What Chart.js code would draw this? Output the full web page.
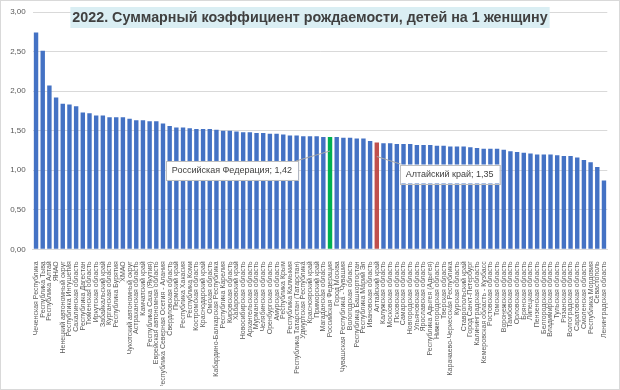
<!DOCTYPE html>
<html><head><meta charset="utf-8">
<script src="https://cdn.jsdelivr.net/npm/chart.js@4/dist/chart.umd.min.js"></script>
<style>html,body{margin:0;padding:0;background:#fff}#wrap{width:620px;height:390px;position:relative}</style>
</head><body><div id="wrap"><canvas id="c" width="620" height="390"></canvas></div>
<script>
const titleText = "2022. Суммарный коэффициент рождаемости, детей на 1 женщину";
const regions = [
"Чеченская Республика","Республика Тыва","Республика Алтай","ЯНАО","Ненецкий автономный округ",
"Республика Ингушетия","Сахалинская область","Республика Дагестан","Тюменская область","Иркутская область",
"Забайкальский край","Курганская область","Республика Бурятия","ХМАО","Чукотский автономный округ",
"Астраханская область","Камчатский край","Республика Саха (Якутия)","Еврейская автономная область","Республика Северная Осетия - Алания",
"Свердловская область","Пермский край","Республика Хакасия","Республика Коми","Костромская область",
"Краснодарский край","Омская область","Кабардино-Балкарская Республика","Республика Карелия","Кировская область",
"Хабаровский край","Новосибирская область","Архангельская область","Мурманская область","Челябинская область",
"Оренбургская область","Амурская область","Республика Крым","Республика Калмыкия","Республика Татарстан (Татарстан)",
"Удмуртская Республика","Красноярский край","Приморский край","Магаданская область","Российская Федерация",
"Город Москва","Чувашская Республика - Чувашия","Вологодская область","Республика Башкортостан","Республика Марий Эл",
"Ивановская область","Алтайский край","Калужская область","Московская область","Псковская область",
"Самарская область","Новгородская область","Ульяновская область","Ярославская область","Республика Адыгея (Адыгея)",
"Нижегородская область","Тверская область","Карачаево-Черкесская Республика","Курская область","Ставропольский край",
"Город Санкт-Петербург","Калининградская область","Кемеровская область - Кузбасс","Ростовская область","Томская область",
"Воронежская область","Тамбовская область","Орловская область","Брянская область","Липецкая область",
"Пензенская область","Белгородская область","Владимирская область","Тульская область","Рязанская область",
"Волгоградская область","Саратовская область","Смоленская область","Республика Мордовия","Севастополь",
"Ленинградская область"
];
const values = [
2.74,2.51,2.07,1.92,1.84,
1.83,1.81,1.73,1.72,1.69,
1.69,1.67,1.67,1.67,1.65,
1.63,1.63,1.62,1.62,1.59,
1.56,1.54,1.54,1.53,1.52,
1.52,1.52,1.51,1.50,1.50,
1.49,1.48,1.48,1.47,1.47,
1.46,1.46,1.45,1.44,1.44,
1.43,1.43,1.43,1.42,1.42,
1.42,1.41,1.41,1.40,1.40,
1.37,1.35,1.34,1.34,1.33,
1.33,1.33,1.32,1.32,1.32,
1.31,1.31,1.30,1.30,1.30,
1.29,1.28,1.27,1.27,1.27,
1.26,1.24,1.23,1.22,1.21,
1.20,1.20,1.20,1.19,1.18,
1.18,1.16,1.13,1.10,1.04,
0.87
];
const yTicks = [0, 0.5, 1, 1.5, 2, 2.5, 3];
const highlightNational = "Российская Федерация";
const highlightLocal = "Алтайский край";

const BLUE = "#4472C4", GREEN = "#00B050", RED = "#C0504D";
const barColors = regions.map(r => r === highlightNational ? GREEN : (r === highlightLocal ? RED : BLUE));
const fmt = v => v.toFixed(2).replace('.', ',');

const decor = {
  id: 'decor',
  beforeDraw(chart) {
    const ctx = chart.ctx;
    ctx.save();
    ctx.fillStyle = '#fff';
    ctx.fillRect(0, 0, chart.width, chart.height);
    ctx.strokeStyle = '#D9D9D9';
    ctx.lineWidth = 1;
    ctx.strokeRect(0.5, 0.5, chart.width - 1, chart.height - 1);
    ctx.restore();
  },
  afterDatasetsDraw(chart) {
    const ctx = chart.ctx;
    const meta = chart.getDatasetMeta(0);
    const drawCallout = (name, side) => {
      const i = regions.indexOf(name);
      const el = meta.data[i];
      const text = name + '; ' + fmt(values[i]);
      ctx.save();
      ctx.font = '9px "Liberation Sans", Arial, sans-serif';
      const w = ctx.measureText(text).width + 12;
      const h = 19;
      let bx, by, lx, ly;
      if (side === 'left') {
        bx = el.x - 32 - w; by = el.y + 24;
        lx = bx + w - 2; ly = by;
      } else {
        bx = el.x + 23; by = el.y + 22;
        lx = bx + 2; ly = by;
      }
      ctx.strokeStyle = '#A6A6A6';
      ctx.lineWidth = 1;
      ctx.beginPath();
      ctx.moveTo(lx, ly);
      ctx.lineTo(el.x, el.y + 14);
      ctx.stroke();
      ctx.fillStyle = '#fff';
      ctx.fillRect(bx, by, w, h);
      ctx.strokeStyle = '#BFBFBF';
      ctx.strokeRect(Math.round(bx) + 0.5, Math.round(by) + 0.5, w, h);
      ctx.fillStyle = '#404040';
      ctx.textBaseline = 'middle';
      ctx.textAlign = 'left';
      ctx.fillText(text, bx + 6, by + h / 2 + 0.5);
      ctx.restore();
    };
    drawCallout(highlightNational, 'left');
    drawCallout(highlightLocal, 'right');
  },
  afterDraw(chart) {
    const ctx = chart.ctx;
    ctx.save();
    let size = 16;
    ctx.font = 'bold ' + size + 'px "Liberation Sans", Arial, sans-serif';
    let tw = ctx.measureText(titleText).width;
    size = size * 476 / tw;
    ctx.font = 'bold ' + size + 'px "Liberation Sans", Arial, sans-serif';
    tw = ctx.measureText(titleText).width;
    const cx = 310;
    ctx.fillStyle = '#DAEEF3';
    ctx.fillRect(cx - tw / 2 - 2, 7, tw + 4, 21);
    ctx.fillStyle = '#404040';
    ctx.textAlign = 'center';
    ctx.textBaseline = 'middle';
    ctx.fillText(titleText, cx, 18);
    ctx.restore();
  }
};

new Chart(document.getElementById('c'), {
  type: 'bar',
  data: {
    labels: regions,
    datasets: [{ data: values, backgroundColor: barColors, borderWidth: 0, barPercentage: 0.66, categoryPercentage: 1 }]
  },
  options: {
    responsive: false,
    animation: false,
    devicePixelRatio: 1,
    layout: { padding: { top: 12, right: 12.7, bottom: 4, left: 0 } },
    plugins: { legend: { display: false }, tooltip: { enabled: false }, title: { display: false } },
    scales: {
      x: {
        grid: { display: false },
        border: { display: true, color: '#D9D9D9' },
        ticks: {
          autoSkip: false, maxRotation: 90, minRotation: 90, padding: 4,
          color: '#595959', font: { size: 7, family: '"Liberation Sans", Arial, sans-serif' }
        },
        afterFit(scale) { scale.height = 136.7; }
      },
      y: {
        min: 0, max: 3,
        afterBuildTicks(scale) { scale.ticks = yTicks.map(v => ({ value: v })); },
        grid: { color: '#D9D9D9', drawTicks: false },
        border: { display: false },
        ticks: {
          padding: 7, color: '#595959',
          font: { size: 8, family: '"Liberation Sans", Arial, sans-serif' },
          callback: v => fmt(v)
        },
        afterFit(scale) { scale.width = 32.7; }
      }
    }
  },
  plugins: [decor]
});
</script>
</body></html>
